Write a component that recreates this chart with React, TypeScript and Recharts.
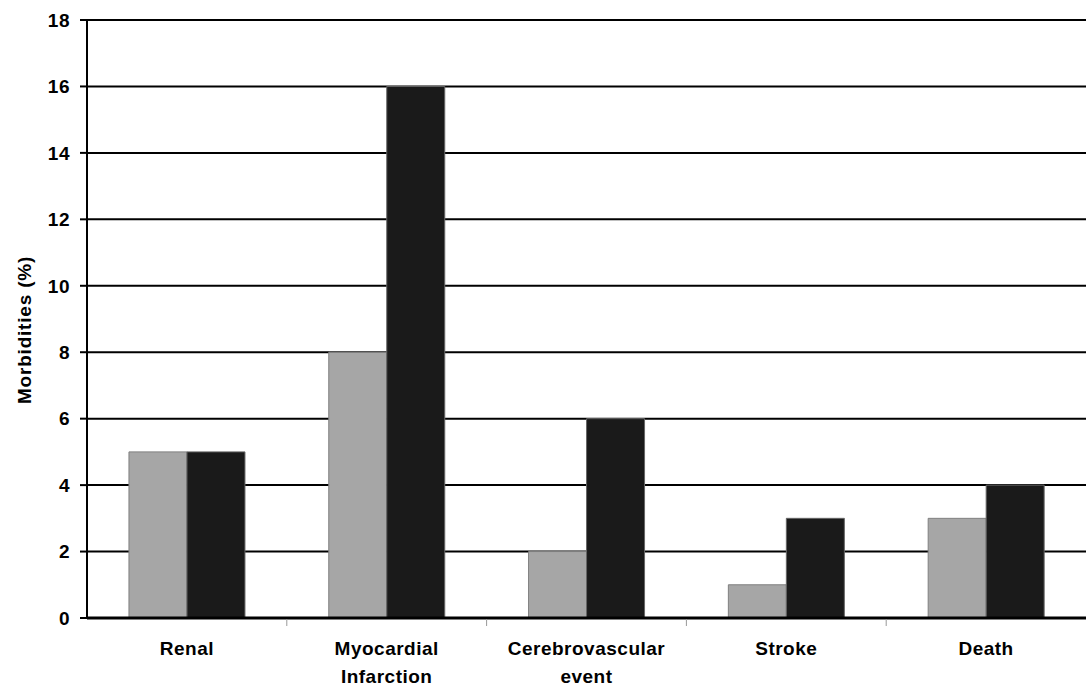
import React from "react";
import { BarChart, Bar, XAxis, YAxis, CartesianGrid } from "recharts";

const categories = ["Renal", "Myocardial Infarction", "Cerebrovascular event", "Stroke", "Death"];
const categoryLines = [["Renal"], ["Myocardial", "Infarction"], ["Cerebrovascular", "event"], ["Stroke"], ["Death"]];
const seriesGray = [5, 8, 2, 1, 3];
const seriesBlack = [5, 16, 6, 3, 4];
const yTicks = [0, 2, 4, 6, 8, 10, 12, 14, 16, 18];

const data = categories.map((c, i) => ({ name: c, gray: seriesGray[i], black: seriesBlack[i] }));

const FONT = "'Liberation Sans', Arial, sans-serif";
const W = 1086;
const H = 687;
const M = { top: 20, right: 0, bottom: 0, left: 0 };
const X_H = 69;
const Y_W = 87;

const XTick = (props: any) => {
  const { x, y, payload, index } = props;
  const idx = typeof index === "number" ? index : categories.indexOf(payload.value);
  const lines = categoryLines[idx] || [payload.value];
  const half = payload && payload.offset > 0 ? payload.offset : (W - Y_W - M.right) / categories.length / 2;
  return (
    <g>
      {idx < categories.length - 1 && (
        <line x1={x + half} x2={x + half} y1={y + 1} y2={y + 8} stroke="#999" strokeWidth={1} />
      )}
      {lines.map((l: string, k: number) => (
        <text
          key={k}
          x={x}
          y={y + 37 + k * 28}
          textAnchor="middle"
          fontFamily={FONT}
          fontWeight="bold"
          fontSize={19}
          letterSpacing={0.5}
          fill="#000"
        >
          {l}
        </text>
      ))}
    </g>
  );
};

const YLabel = () => (
  <text
    x={31}
    y={330}
    transform="rotate(-90 31 330)"
    textAnchor="middle"
    fontFamily={FONT}
    fontWeight="bold"
    fontSize={19}
    letterSpacing={0.8}
    fill="#000"
  >
    Morbidities (%)
  </text>
);

export default function App() {
  return (
    <div style={{ position: "absolute", left: 0, top: 0, width: W, height: H, background: "#fff" }}>
      <BarChart width={W} height={H} data={data} margin={M} barGap={0} barCategoryGap="21%">
        <CartesianGrid vertical={false} stroke="#000" strokeWidth={2} />
        <XAxis
          dataKey="name"
          height={X_H}
          interval={0}
          tickLine={false}
          tickSize={0}
          tickMargin={0}
          axisLine={{ stroke: "#000", strokeWidth: 3 }}
          tick={<XTick />}
        />
        <YAxis
          width={Y_W}
          domain={[0, 18]}
          ticks={yTicks}
          interval={0}
          tickSize={7}
          tickMargin={10}
          axisLine={{ stroke: "#000", strokeWidth: 2 }}
          tickLine={{ stroke: "#000", strokeWidth: 2 }}
          tick={{ fontFamily: FONT, fontWeight: "bold", fontSize: 19, fill: "#000", letterSpacing: 0.5 } as any}
          label={{ content: () => <YLabel /> } as any}
        />
        <Bar dataKey="gray" fill="#a6a6a6" stroke="#808080" strokeWidth={1} isAnimationActive={false} />
        <Bar dataKey="black" fill="#1a1a1a" stroke="#666" strokeWidth={1} isAnimationActive={false} />
      </BarChart>
    </div>
  );
}
